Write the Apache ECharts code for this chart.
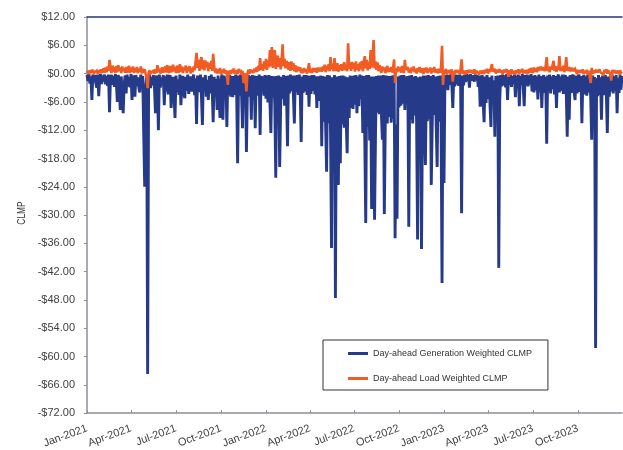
<!DOCTYPE html>
<html><head><meta charset="utf-8">
<script src="https://cdn.jsdelivr.net/npm/echarts@6/dist/echarts.min.js"></script>
<style>html,body{margin:0;padding:0;background:#fff}#c{width:623px;height:450px}</style>
</head><body><div id="c"></div>
<script>
const startDate = '2021-01-01';
const stepDays = 2;
const tickLabels = ['Jan-2021','Apr-2021','Jul-2021','Oct-2021','Jan-2022','Apr-2022','Jul-2022','Oct-2022','Jan-2023','Apr-2023','Jul-2023','Oct-2023'];
const seriesNames = ['Day-ahead Generation Weighted CLMP','Day-ahead Load Weighted CLMP'];

const genWeighted = [
-0.3,-1.6,-0.1,-2.1,-0.6,-5.6,-0.2,-1.8,-0.3,-2.0,
-3.0,-0.2,-4.8,-0.7,-0.1,-2.2,-0.4,-1.7,-0.2,-2.3,
-0.5,-2.6,-0.2,-8.2,-0.8,-0.3,-2.4,-0.5,-2.8,-0.1,
-1.9,-6.0,-0.3,-2.5,-7.7,-0.6,-0.2,-8.4,-2.2,-0.4,
-4.2,-0.2,-2.7,-0.7,-2.9,-0.1,-5.6,-1.8,-0.4,-4.9,
-0.3,-2.6,-0.8,-3.0,-4.0,-0.2,-2.4,-0.5,-13.0,-24.0,
-2.8,-0.5,-63.7,-2.0,-0.2,-3.1,-0.7,-2.5,-0.3,-2.9,
-8.4,-0.4,-2.7,-12.0,-0.2,-3.0,-0.8,-2.4,-0.3,-6.7,
-0.6,-3.8,-0.2,-4.4,-1.2,-0.3,-7.3,-3.5,-0.7,-4.7,
-9.4,-0.4,-3.9,-1.2,-4.5,-0.2,-6.7,-2.6,-0.5,-4.1,
-5.2,-0.7,-3.6,-0.2,-4.3,-4.5,-0.6,-3.8,-1.4,-0.2,
-4.6,-1.0,-10.7,-0.4,-3.9,-2.8,-0.2,-4.8,-10.9,-0.8,
-3.7,-0.3,-4.9,-1.3,-5.6,-0.5,-4.2,-0.2,-3.3,-10.3,
-0.7,-4.4,-1.1,-7.7,-0.4,-4.8,-9.4,-1.5,-0.2,-9.8,
-0.4,-5.0,-0.6,-11.3,-0.3,-4.6,-0.3,-4.9,-0.5,-5.0,
-0.5,-4.5,-0.2,-3.9,-19.0,-0.4,-4.7,-0.2,-4.1,-11.6,
-0.4,-4.8,-0.4,-16.6,-3.6,-0.3,-4.9,-0.5,-9.8,-0.3,
-4.4,-0.4,-11.6,-0.5,-3.8,-4.6,-0.2,-13.0,-0.5,-4.0,
-0.6,-4.7,-0.3,-5.3,-0.4,-6.1,-0.3,-5.8,-12.6,-0.5,
-5.0,-0.6,-6.6,-22.1,-0.5,-5.8,-0.4,-19.8,-6.9,-0.7,
-5.4,-0.3,-6.8,-0.5,-4.6,-15.4,-0.4,-4.2,-0.2,-3.7,
-0.4,-4.4,-10.6,-0.4,-3.9,-0.3,-4.5,-0.2,-3.6,-14.5,
-0.6,-4.1,-0.3,-3.8,-0.3,-4.5,-0.4,-7.0,-0.5,-4.3,
-0.3,-3.7,-0.3,-4.4,-0.6,-7.3,-0.6,-4.0,-5.8,-0.4,
-15.4,-0.5,-10.2,-0.6,-11.1,-20.8,-0.3,-10.5,-0.4,-12.3,
-37.0,-0.8,-11.6,-0.3,-47.6,-0.6,-12.0,-23.6,-0.5,-19.0,
-0.4,-10.8,-0.4,-11.5,-0.6,-9.7,-16.9,-0.8,-9.4,-0.4,
-7.3,-0.5,-7.5,-0.4,-6.6,-0.3,-8.4,-0.6,-6.9,-0.2,
-5.4,-0.4,-12.6,-0.5,-13.8,-31.7,-0.3,-11.3,-0.3,-14.2,
-0.6,-28.7,-13.1,-0.6,-31.0,-12.4,-0.5,-8.3,-0.4,-8.6,
-0.4,-8.5,-14.0,-0.3,-29.8,-9.9,-0.4,-10.6,-0.5,-9.2,
-0.5,-10.4,-0.4,-9.6,-0.3,-34.9,-10.8,-30.8,-0.6,-7.2,
-0.4,-6.8,-0.3,-6.4,-0.3,-7.7,-0.6,-6.1,-0.5,-32.5,
-0.4,-9.8,-0.3,-10.6,-0.7,-8.9,-0.5,-10.2,-35.2,-0.8,
-10.9,-0.6,-37.2,-9.4,-0.4,-10.5,-19.4,-0.4,-10.1,-0.3,
-9.7,-0.5,-23.6,-10.4,-0.3,-8.8,-0.6,-10.6,-19.8,-0.5,
-10.2,-0.4,-9.5,-44.4,-0.4,-23.2,-0.3,-2.6,-0.2,-3.5,
-0.3,-2.4,-0.1,-2.1,-7.3,-0.4,-2.7,-0.2,-2.3,-0.3,
-2.6,-0.2,-2.0,-29.6,-0.4,-2.5,-0.3,-1.8,-0.1,-1.6,
-0.2,-3.0,-0.1,-1.5,-0.4,-0.1,-1.7,-0.2,-1.4,-0.3,
-2.8,-0.4,-7.0,-4.5,-0.3,-5.9,-10.3,-0.6,-6.2,-0.3,
-5.4,-0.8,-6.5,-11.3,-0.4,-6.0,-1.4,-13.4,-0.5,-5.7,
-0.4,-41.2,-5.6,-0.3,-2.7,-0.2,-2.5,-0.4,-2.9,-0.1,
-5.6,-0.3,-2.4,-0.2,-2.8,-0.5,-2.2,-0.2,-5.0,-0.4,
-2.6,-0.2,-6.9,-0.5,-2.4,-0.1,-2.9,-6.9,-0.3,-2.5,
-0.2,-2.7,-0.4,-2.3,-0.1,-3.8,-0.5,-4.0,-0.3,-3.5,
-0.6,-5.5,-0.2,-3.9,-0.5,-7.3,-1.2,-0.3,-4.1,-0.7,
-14.9,-0.4,-3.7,-0.2,-4.2,-0.6,-3.3,-0.3,-4.4,-0.5,
-7.3,-0.9,-0.2,-4.0,-0.6,-3.6,-0.2,-4.3,-0.8,-0.3,
-3.9,-13.4,-0.6,-9.8,-0.3,-4.1,-0.9,-0.2,-3.8,-5.6,
-0.4,-4.2,-0.8,-0.2,-3.9,-0.5,-10.5,-1.1,-0.3,-4.4,
-0.6,-4.7,-0.2,-4.0,-0.9,-4.9,-14.0,-0.4,-4.3,-0.7,
-58.2,-1.0,-4.8,-0.3,-4.5,-0.8,-9.8,-0.4,-4.6,-1.2,
-0.3,-4.4,-12.6,-0.6,-4.9,-0.4,-3.8,-0.2,-4.2,-0.6,
-3.6,-0.3,-8.4,-0.9,-4.1,-0.2,-3.4,-0.5
];

const loadWeighted = [
0.1,0.6,-0.1,0.7,0.2,0.0,0.8,0.1,0.5,-0.1,
0.6,0.0,0.7,0.2,0.9,0.1,0.6,1.1,0.2,1.3,
0.3,1.5,0.6,2.9,1.2,0.1,1.7,0.4,1.4,0.1,
1.6,0.3,1.8,0.6,1.3,0.1,1.5,0.5,1.2,0.2,
1.4,0.2,1.1,1.6,0.1,1.3,0.4,1.5,0.1,1.2,
0.3,1.4,0.1,1.1,0.4,1.5,0.0,1.0,0.2,0.9,
-0.1,-0.8,-3.1,0.2,0.7,-0.1,0.6,0.1,0.8,0.0,
0.9,0.1,1.8,0.3,1.1,0.0,0.8,1.3,0.2,1.0,
1.5,0.2,1.8,0.6,0.1,1.6,0.8,0.3,1.9,0.5,
1.4,0.1,1.7,0.7,0.2,2.0,0.4,1.5,0.1,1.3,
0.6,1.7,0.1,1.4,0.5,1.6,0.0,1.2,0.3,1.5,
0.7,2.4,4.4,1.2,2.9,0.6,2.6,3.5,0.9,2.8,
0.7,2.8,1.3,2.5,0.5,2.2,1.0,2.7,0.6,4.2,
1.5,0.2,1.1,0.0,0.9,0.1,1.2,-0.1,0.8,0.1,
1.0,0.0,0.7,-0.2,-2.4,0.6,0.9,-0.1,0.8,0.1,
1.1,0.0,0.7,0.9,-0.1,1.0,0.2,0.8,-0.2,0.6,
-2.0,0.1,-0.6,-3.8,0.0,0.8,-0.1,0.9,0.2,0.7,
0.1,1.0,0.3,1.3,0.4,1.6,0.6,3.3,0.8,2.0,
0.6,2.6,1.0,3.1,0.8,2.8,1.3,5.0,1.5,5.6,
1.2,3.4,5.0,1.0,3.0,3.8,1.4,3.3,0.9,2.9,
6.2,1.6,3.1,1.1,2.7,3.0,0.8,2.4,0.6,2.6,
0.8,2.2,0.5,1.8,0.3,1.5,0.6,0.2,1.3,0.1,
1.0,0.1,1.2,0.3,0.9,0.0,1.1,2.2,0.2,1.0,
0.1,1.2,0.4,0.0,1.1,0.2,1.3,0.5,0.1,1.2,
0.4,1.5,0.6,1.9,0.3,1.6,0.7,2.0,0.5,3.5,
0.9,2.1,0.5,3.3,1.1,0.6,2.2,0.4,1.8,0.7,
2.0,0.6,1.7,2.4,0.7,1.9,0.5,6.4,1.0,2.3,
0.6,2.5,1.0,2.2,0.4,2.6,0.8,2.0,0.5,2.4,
0.9,2.7,0.5,2.3,3.7,1.1,2.9,0.7,2.5,1.0,
5.0,1.3,2.8,7.1,1.1,2.6,0.8,2.4,0.5,1.8,
0.7,0.2,1.5,0.5,1.3,0.1,1.1,1.6,0.3,1.2,
0.4,1.4,0.2,1.3,3.0,-2.0,1.1,0.3,1.5,0.5,
1.3,0.2,1.6,0.6,0.1,2.9,0.8,0.4,1.4,0.2,
1.1,0.1,1.3,0.5,1.5,0.3,1.0,0.0,1.2,0.4,
1.4,0.2,1.1,0.5,-0.1,1.2,0.3,1.3,0.1,1.0,
0.4,1.3,0.0,1.1,0.3,1.4,0.2,0.9,1.2,0.1,
1.0,0.2,1.3,5.9,-2.4,0.8,0.0,1.0,-0.1,0.7,
0.1,0.8,-0.2,0.9,-1.7,0.6,-0.1,0.8,0.2,-0.1,
0.7,0.0,0.9,3.0,-0.1,0.6,0.4,-0.2,0.7,0.1,
-0.1,0.8,0.2,-0.2,0.7,0.0,0.9,-0.1,0.6,0.2,
0.8,-0.2,0.6,0.9,0.0,0.7,-0.1,0.8,0.2,1.0,
0.0,0.9,0.3,-0.1,2.0,0.4,0.1,1.0,0.0,0.8,
0.3,-0.1,0.9,0.2,0.7,-0.2,0.8,0.3,0.0,0.9,
0.2,-0.7,0.7,0.0,0.9,-0.1,0.6,0.8,-0.2,0.7,
0.2,0.9,-0.1,0.8,0.3,1.0,0.0,0.7,0.9,0.1,
0.8,0.0,1.0,0.2,1.2,0.6,0.1,1.3,0.4,1.1,
0.3,1.4,0.6,0.2,1.5,0.7,0.4,1.3,0.5,1.6,
3.5,0.5,1.4,0.3,1.5,0.8,0.5,2.7,0.6,1.6,
0.4,1.5,0.8,3.7,0.5,1.4,0.6,1.7,0.3,1.3,
3.5,0.6,0.4,1.4,0.5,0.2,1.2,0.5,0.1,1.0,
0.6,-0.1,0.8,0.2,-0.2,0.7,0.1,0.9,-0.1,0.6,
0.1,0.8,-0.2,0.6,0.2,-2.0,1.2,0.0,0.7,0.2,
-0.1,0.8,0.2,0.0,0.9,0.3,0.1,0.7,-0.2,0.8,
0.2,0.9,0.0,0.7,0.3,-0.1,-1.5,0.8,0.1,0.7,
0.9,0.0,0.6,0.8,-0.1,0.7,0.2,0.4
];

// category dates (one every stepDays days from startDate)
const categories = [];
const d0 = new Date(startDate + 'T00:00:00Z').getTime();
for (let i = 0; i < genWeighted.length; i++) {
  categories.push(new Date(d0 + i * stepDays * 86400000).toISOString().slice(0, 10));
}
// quarter-start ticks
const tickIdx = {};
let k = 0, prevMonth = -1;
categories.forEach((c, i) => {
  const m = +c.slice(5, 7) - 1;
  if (m !== prevMonth && m % 3 === 0 && k < tickLabels.length) tickIdx[i] = tickLabels[k++];
  prevMonth = m;
});

const FONT = '"Liberation Sans", Arial, sans-serif';
const axisGray = '#8e8f98';
const chart = echarts.init(document.getElementById('c'), null, {renderer: 'canvas'});
chart.setOption({
  animation: false,
  backgroundColor: '#ffffff',
  grid: {left: 87, right: 1, top: 17, bottom: 36},
  legend: {
    orient: 'vertical', left: 323, top: 340,
    padding: [9, 16, 7, 25],
    itemWidth: 20, itemHeight: 3, itemGap: 16, icon: 'rect',
    borderColor: '#333', borderWidth: 1, backgroundColor: '#fff',
    textStyle: {fontSize: 9, color: '#333', fontFamily: FONT},
    data: seriesNames
  },
  graphic: [{
    type: 'text', x: 22, y: 213, rotation: Math.PI / 2, scaleX: 0.8,
    style: {text: 'CLMP', font: '10.5px ' + FONT, fill: '#333', align: 'center', verticalAlign: 'middle', textAlign: 'center', textVerticalAlign: 'middle'}
  }],
  xAxis: [{
    type: 'category', data: categories, boundaryGap: false,
    axisLine: {onZero: false, lineStyle: {color: axisGray, width: 1.5}},
    axisTick: {inside: true, length: 3, interval: (i) => i in tickIdx, lineStyle: {color: axisGray}},
    axisLabel: {interval: (i) => i in tickIdx, formatter: (v, i) => tickIdx[i] || '', rotate: 20, margin: 15,
      fontSize: 11, color: '#404040', fontFamily: FONT},
    splitLine: {show: false}
  }, {
    type: 'value', position: 'top', min: 0, max: 1,
    axisLine: {show: true, onZero: false, lineStyle: {color: '#25357c', width: 1.5}},
    axisTick: {show: false}, axisLabel: {show: false}, splitLine: {show: false}
  }],
  yAxis: {
    type: 'value', min: -72, max: 12, interval: 6,
    axisLine: {show: true, onZero: false, lineStyle: {color: axisGray, width: 1.5}},
    axisTick: {show: true, length: 3, lineStyle: {color: axisGray}},
    axisLabel: {margin: 12, fontSize: 11, color: '#404040', fontFamily: FONT,
      formatter: (v) => (v < 0 ? '-$' : '$') + Math.abs(v).toFixed(2)},
    splitLine: {show: false}
  },
  series: [{
    name: seriesNames[0], type: 'line', data: genWeighted, symbol: 'none',
    lineStyle: {color: '#263a8a', width: 2.9, join: 'miter', miterLimit: 2}, itemStyle: {color: '#263a8a'}
  }, {
    name: seriesNames[1], type: 'line', data: loadWeighted, symbol: 'none',
    lineStyle: {color: '#f25c22', width: 2.6, join: 'miter', miterLimit: 2}, itemStyle: {color: '#f25c22'}
  }]
});
</script></body></html>
